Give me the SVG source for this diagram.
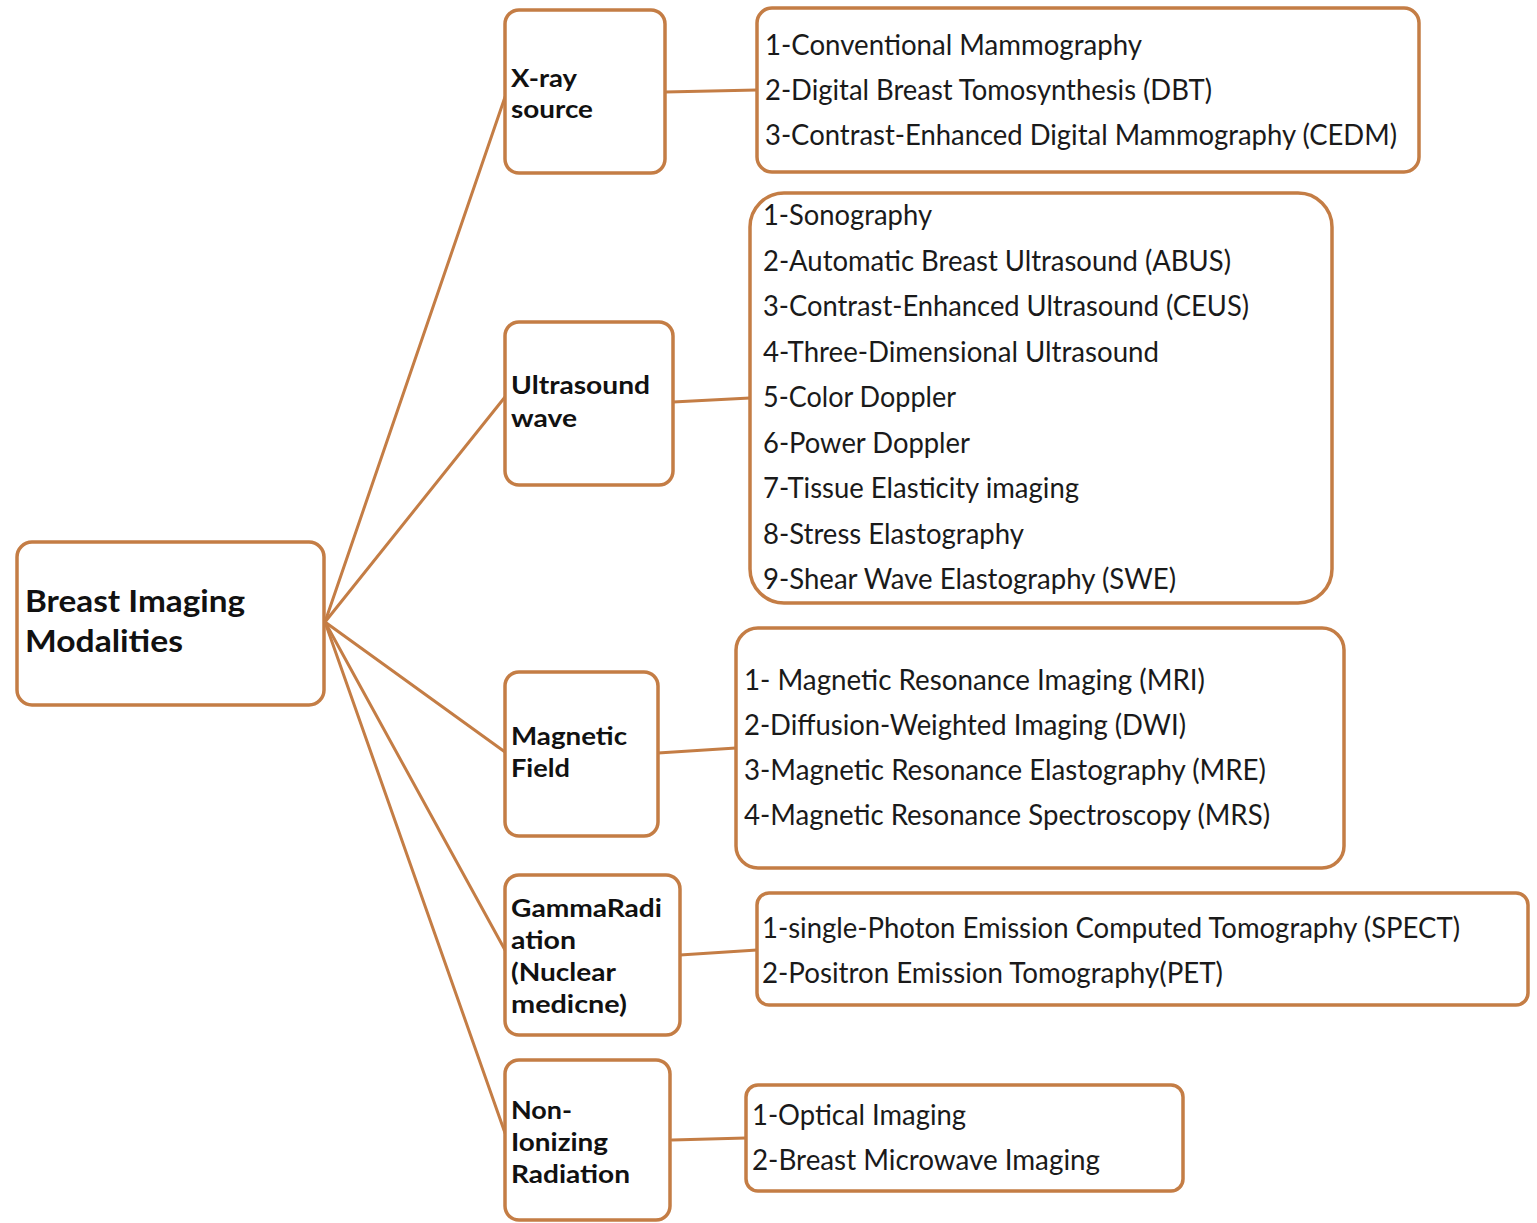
<svg xmlns="http://www.w3.org/2000/svg" width="1537" height="1223" viewBox="0 0 1537 1223">
<style>
.box{fill:#ffffff;stroke:#C47D45;stroke-width:3.5}
.con{stroke:#C47D45;stroke-width:3;fill:none;stroke-linecap:round}
.item{font-family:Lato,"Open Sans","Liberation Sans",sans-serif;font-size:28px;fill:#1a1a1a}
.lab{font-family:Lato,"Open Sans","Liberation Sans",sans-serif;font-size:25px;font-weight:bold;fill:#111}
.root{font-family:Lato,"Open Sans","Liberation Sans",sans-serif;font-size:31px;font-weight:bold;fill:#111}
</style>
<rect width="1537" height="1223" fill="#ffffff"/>
<g id="connectors">
<line class="con" x1="325" y1="622" x2="505" y2="97"/>
<line class="con" x1="325" y1="622" x2="505" y2="397"/>
<line class="con" x1="325" y1="622" x2="505" y2="752"/>
<line class="con" x1="325" y1="622" x2="505" y2="950"/>
<line class="con" x1="325" y1="622" x2="505" y2="1133"/>
<line class="con" x1="665" y1="92" x2="757" y2="90"/>
<line class="con" x1="673" y1="402" x2="750" y2="398"/>
<line class="con" x1="658" y1="753" x2="736" y2="748"/>
<line class="con" x1="680" y1="955" x2="757" y2="950"/>
<line class="con" x1="672" y1="1140" x2="746" y2="1138"/>
</g>
<g id="root">
<rect class="box" x="17" y="542" width="307" height="163" rx="15"/>
<text class="root" x="25" y="612" textLength="220" lengthAdjust="spacingAndGlyphs">Breast Imaging</text>
<text class="root" x="25" y="652" textLength="158" lengthAdjust="spacingAndGlyphs">Modalities</text>
</g>
<g id="xray">
<rect class="box" x="505" y="10" width="160" height="163" rx="14"/>
<text class="lab" x="511" y="87" textLength="66" lengthAdjust="spacingAndGlyphs">X-ray</text>
<text class="lab" x="511" y="118" textLength="82" lengthAdjust="spacingAndGlyphs">source</text>
</g>
<g id="xray-list">
<rect class="box" x="757" y="8" width="662" height="164" rx="15"/>
<text class="item" x="765" y="55" textLength="377" lengthAdjust="spacingAndGlyphs">1-Conventional Mammography</text>
<text class="item" x="765" y="100" textLength="447" lengthAdjust="spacingAndGlyphs">2-Digital Breast Tomosynthesis (DBT)</text>
<text class="item" x="765" y="145" textLength="632" lengthAdjust="spacingAndGlyphs">3-Contrast-Enhanced Digital Mammography (CEDM)</text>
</g>
<g id="ultrasound">
<rect class="box" x="505" y="322" width="168" height="163" rx="14"/>
<text class="lab" x="511" y="394" textLength="139" lengthAdjust="spacingAndGlyphs">Ultrasound</text>
<text class="lab" x="511" y="427" textLength="66" lengthAdjust="spacingAndGlyphs">wave</text>
</g>
<g id="ultrasound-list">
<rect class="box" x="750" y="193" width="582" height="410" rx="34"/>
<text class="item" x="763" y="225" textLength="169" lengthAdjust="spacingAndGlyphs">1-Sonography</text>
<text class="item" x="763" y="270.5" textLength="468" lengthAdjust="spacingAndGlyphs">2-Automatic Breast Ultrasound (ABUS)</text>
<text class="item" x="763" y="316" textLength="486" lengthAdjust="spacingAndGlyphs">3-Contrast-Enhanced Ultrasound (CEUS)</text>
<text class="item" x="763" y="361.5" textLength="396" lengthAdjust="spacingAndGlyphs">4-Three-Dimensional Ultrasound</text>
<text class="item" x="763" y="407" textLength="193" lengthAdjust="spacingAndGlyphs">5-Color Doppler</text>
<text class="item" x="763" y="452.5" textLength="207" lengthAdjust="spacingAndGlyphs">6-Power Doppler</text>
<text class="item" x="763" y="498" textLength="316" lengthAdjust="spacingAndGlyphs">7-Tissue Elasticity imaging</text>
<text class="item" x="763" y="543.5" textLength="261" lengthAdjust="spacingAndGlyphs">8-Stress Elastography</text>
<text class="item" x="763" y="589" textLength="413" lengthAdjust="spacingAndGlyphs">9-Shear Wave Elastography (SWE)</text>
</g>
<g id="magnetic">
<rect class="box" x="505" y="672" width="153" height="164" rx="14"/>
<text class="lab" x="511" y="745" textLength="116" lengthAdjust="spacingAndGlyphs">Magnetic</text>
<text class="lab" x="511" y="777" textLength="59" lengthAdjust="spacingAndGlyphs">Field</text>
</g>
<g id="magnetic-list">
<rect class="box" x="736" y="628" width="608" height="240" rx="22"/>
<text class="item" x="744" y="690" textLength="461" lengthAdjust="spacingAndGlyphs">1- Magnetic Resonance Imaging (MRI)</text>
<text class="item" x="744" y="735" textLength="442" lengthAdjust="spacingAndGlyphs">2-Diffusion-Weighted Imaging (DWI)</text>
<text class="item" x="744" y="780" textLength="522" lengthAdjust="spacingAndGlyphs">3-Magnetic Resonance Elastography (MRE)</text>
<text class="item" x="744" y="825" textLength="526" lengthAdjust="spacingAndGlyphs">4-Magnetic Resonance Spectroscopy (MRS)</text>
</g>
<g id="gamma">
<rect class="box" x="505" y="875" width="175" height="160" rx="14"/>
<text class="lab" x="511" y="917" textLength="151" lengthAdjust="spacingAndGlyphs">GammaRadi</text>
<text class="lab" x="511" y="949" textLength="65" lengthAdjust="spacingAndGlyphs">ation</text>
<text class="lab" x="511" y="981" textLength="105" lengthAdjust="spacingAndGlyphs">(Nuclear</text>
<text class="lab" x="511" y="1013" textLength="116" lengthAdjust="spacingAndGlyphs">medicne)</text>
</g>
<g id="gamma-list">
<rect class="box" x="757" y="893" width="771" height="112" rx="12"/>
<text class="item" x="762" y="938" textLength="698" lengthAdjust="spacingAndGlyphs">1-single-Photon Emission Computed Tomography (SPECT)</text>
<text class="item" x="762" y="983" textLength="461" lengthAdjust="spacingAndGlyphs">2-Positron Emission Tomography(PET)</text>
</g>
<g id="nonionizing">
<rect class="box" x="505" y="1060" width="165" height="160" rx="14"/>
<text class="lab" x="511" y="1119" textLength="61" lengthAdjust="spacingAndGlyphs">Non-</text>
<text class="lab" x="511" y="1151" textLength="97" lengthAdjust="spacingAndGlyphs">Ionizing</text>
<text class="lab" x="511" y="1183" textLength="119" lengthAdjust="spacingAndGlyphs">Radiation</text>
</g>
<g id="nonionizing-list">
<rect class="box" x="746" y="1085" width="437" height="106" rx="12"/>
<text class="item" x="752" y="1125" textLength="214" lengthAdjust="spacingAndGlyphs">1-Optical Imaging</text>
<text class="item" x="752" y="1170" textLength="348" lengthAdjust="spacingAndGlyphs">2-Breast Microwave Imaging</text>
</g>
</svg>
